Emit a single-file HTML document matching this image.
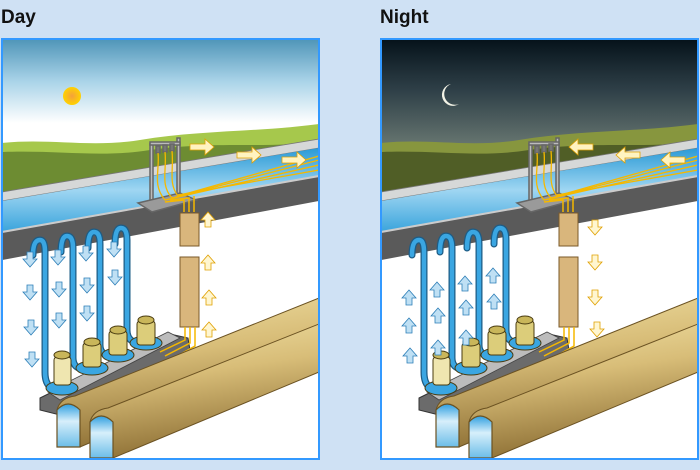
<!DOCTYPE html>
<html><head><meta charset="utf-8"><style>
html,body{margin:0;padding:0;background:#cfe1f4;}
svg{display:block}
text{font-family:"Liberation Sans",sans-serif;font-weight:bold;}
</style></head><body>
<svg width="700" height="470" viewBox="0 0 700 470" xmlns="http://www.w3.org/2000/svg">
<defs>
<linearGradient id="skyD" x1="0" y1="0" x2="0" y2="1"><stop offset="0" stop-color="#4f95b8"/><stop offset="0.1" stop-color="#a9d3e8"/><stop offset="0.2" stop-color="#ffffff"/></linearGradient>
<linearGradient id="skyN" x1="0" y1="0" x2="0" y2="1"><stop offset="0" stop-color="#05121a"/><stop offset="0.12" stop-color="#2e3f47"/><stop offset="0.25" stop-color="#65746f"/></linearGradient>
<linearGradient id="wat" x1="0" y1="0" x2="0" y2="1"><stop offset="0" stop-color="#2b9ad6"/><stop offset="0.5" stop-color="#9fd6f2"/><stop offset="1" stop-color="#3aa4dc"/></linearGradient>
<linearGradient id="tun" x1="0" y1="0" x2="0.25" y2="1"><stop offset="0" stop-color="#f1e2a6"/><stop offset="0.45" stop-color="#d8bd78"/><stop offset="1" stop-color="#8e7035"/></linearGradient>
<linearGradient id="face" x1="0" y1="0" x2="0" y2="1"><stop offset="0" stop-color="#2f9fe0"/><stop offset="0.4" stop-color="#d7effb"/><stop offset="1" stop-color="#6cbde8"/></linearGradient>
<radialGradient id="sun"><stop offset="0" stop-color="#f4a13c"/><stop offset="1" stop-color="#ffd200"/></radialGradient>
<clipPath id="cp"><rect x="3" y="40" width="315" height="418"/></clipPath>
<g id="under">
  <rect x="3" y="200" width="316" height="260" fill="#fff"/>
  <polygon points="2,192 319,139 319,148 2,201" fill="#d6d8d8" stroke="#777" stroke-width="0.8"/>
  <polygon points="2,201 319,148 319,176 2,232" fill="url(#wat)"/>
  <polygon points="2,232 319,176 319,201 2,260" fill="#5a5a5a"/>
  <line x1="2" y1="232" x2="319" y2="176" stroke="#ccc" stroke-width="2"/>
  <g stroke="#666" stroke-width="1.5" fill="#bbb">
    <rect x="150" y="144" width="3" height="58"/><rect x="177" y="138" width="3" height="58"/>
    <rect x="150" y="142" width="30" height="3"/>
    <rect x="156" y="146" width="4" height="7" fill="#777"/><rect x="163" y="145" width="4" height="7" fill="#777"/><rect x="170" y="144" width="4" height="7" fill="#777"/>
    <polygon points="138,203 180,193 196,200 152,212" fill="#9a9a9a"/>
  </g>
  <g stroke="#f5b800" stroke-width="1.3" fill="none">
    <path d="M158,153 C160,170 152,185 165,200 L319,165"/>
    <path d="M165,152 C167,170 160,185 172,198 L319,160"/>
    <path d="M172,151 C174,170 168,183 178,196 L319,156"/>
    <path d="M178,195 L319,170"/>
  </g>
  <polygon points="40,398 170,334 188,338 190,350 60,415 40,410" fill="#6b6b6b" stroke="#333" stroke-width="1"/>
  <polygon points="48,392 168,332 180,338 60,400" fill="#bcbcbc" stroke="#444" stroke-width="0.8"/>
  <g fill="none" stroke="#1d5c85" stroke-width="7" stroke-linecap="round">
    <path d="M33,255 Q33,240 40,240 Q45,240 45,252 L45,372 Q45,392 62,388"/>
    <path d="M61,252 Q61,236 67,236 Q73,236 73,248 L73,358 Q73,372 92,368"/>
    <path d="M88,248 Q88,232 94,232 Q100,232 100,244 L100,345 Q100,358 118,355"/>
    <path d="M115,244 Q115,228 121,228 Q127,228 127,240 L127,330 Q127,345 146,343"/>
  </g>
  <g fill="none" stroke="#3aa6e2" stroke-width="4.5" stroke-linecap="round">
    <path d="M33,255 Q33,240 40,240 Q45,240 45,252 L45,372 Q45,392 62,388"/>
    <path d="M61,252 Q61,236 67,236 Q73,236 73,248 L73,358 Q73,372 92,368"/>
    <path d="M88,248 Q88,232 94,232 Q100,232 100,244 L100,345 Q100,358 118,355"/>
    <path d="M115,244 Q115,228 121,228 Q127,228 127,240 L127,330 Q127,345 146,343"/>
  </g>
  <g stroke="#4a3c10" stroke-width="1">
    <ellipse cx="62" cy="388" rx="16" ry="7" fill="#3aa6e2"/><rect x="54" y="357" width="17" height="28" rx="3" fill="#efe6b0"/><ellipse cx="62" cy="355" rx="8" ry="4" fill="#c9b65a"/>
    <ellipse cx="92" cy="368" rx="16" ry="7" fill="#3aa6e2"/><rect x="83" y="343" width="18" height="24" rx="3" fill="#dccd7a"/><ellipse cx="92" cy="342" rx="8" ry="4" fill="#c9b65a"/>
    <ellipse cx="118" cy="355" rx="16" ry="7" fill="#3aa6e2"/><rect x="109" y="331" width="18" height="24" rx="3" fill="#dccd7a"/><ellipse cx="118" cy="330" rx="8" ry="4" fill="#c9b65a"/>
    <ellipse cx="146" cy="343" rx="16" ry="7" fill="#3aa6e2"/><rect x="137" y="321" width="18" height="24" rx="3" fill="#dccd7a"/><ellipse cx="146" cy="320" rx="8" ry="4" fill="#c9b65a"/>
  </g>
  <g fill="#d9b67c" stroke="#7a5a2a" stroke-width="1">
    <rect x="180" y="213" width="19" height="33"/><rect x="180" y="257" width="19" height="70"/>
  </g>
  <g stroke="#f5b800" stroke-width="1.5" fill="none">
    <path d="M184,212 L184,200 L165,202"/><path d="M189,212 L189,198 L170,200"/><path d="M194,212 L194,196"/>
    <path d="M185,327 L185,340 L160,352"/><path d="M190,327 L190,343 L165,356"/><path d="M195,327 L195,346 L170,360"/>
  </g>
  <path d="M57,447 L57,410 Q60,398 75,396 L319,298 L319,345 L80,447 Z" fill="url(#tun)" stroke="#6b5222" stroke-width="1"/>
  <path d="M57,447 L57,410 Q68,398 80,410 L80,447 Z" fill="url(#face)" stroke="#6b5222" stroke-width="1.2"/>
  <path d="M90,458 L90,422 Q93,410 108,408 L319,324 L319,372 L113,458 Z" fill="url(#tun)" stroke="#6b5222" stroke-width="1"/>
  <path d="M90,458 L90,422 Q101,410 113,422 L113,458 Z" fill="url(#face)" stroke="#6b5222" stroke-width="1.2"/>
</g>
<g id="dn"><path d="M-3,0 h6 v7 h4 l-7,8 l-7,-8 h4 z" fill="#bfe0f4" stroke="#2d7fb8" stroke-width="0.8"/></g>
<g id="up"><path d="M-3,15 h6 v-7 h4 l-7,-8 l-7,8 h4 z" fill="#fff6d0" stroke="#e0a000" stroke-width="0.8"/></g>
<g id="ydn"><path d="M-3,0 h6 v7 h4 l-7,8 l-7,-8 h4 z" fill="#fff6d0" stroke="#e0a000" stroke-width="0.8"/></g>
<g id="bup"><path d="M-3,15 h6 v-7 h4 l-7,-8 l-7,8 h4 z" fill="#bfe0f4" stroke="#2d7fb8" stroke-width="0.8"/></g>
</defs>

<text x="1" y="23" font-size="19" fill="#111">Day</text>
<text x="380" y="23" font-size="19" fill="#111">Night</text>

<g clip-path="url(#cp)">
  <rect x="2" y="39" width="318" height="420" fill="url(#skyD)"/>
  <circle cx="72" cy="96" r="9" fill="url(#sun)"/>
  <path d="M2,143 C50,138 90,148 140,140 C200,130 260,132 319,124 L319,200 L2,200 Z" fill="#a6c84c"/>
  <path d="M2,152 C60,150 100,158 150,150 C220,140 280,150 319,140 L319,200 L2,200 Z" fill="#6d8c32"/>
  <use href="#under"/>
  <use href="#dn" x="30" y="252"/><use href="#dn" x="58" y="250"/><use href="#dn" x="86" y="246"/><use href="#dn" x="114" y="242"/>
  <use href="#dn" x="30" y="285"/><use href="#dn" x="59" y="282"/><use href="#dn" x="87" y="278"/><use href="#dn" x="115" y="270"/>
  <use href="#dn" x="31" y="320"/><use href="#dn" x="59" y="313"/><use href="#dn" x="87" y="306"/>
  <use href="#dn" x="32" y="352"/>
  <use href="#up" x="208" y="255"/><use href="#up" x="209" y="290"/><use href="#up" x="209" y="322"/><use href="#up" x="208" y="212"/>
  <g fill="#fff3c0" stroke="#e0a000" stroke-width="0.8">
    <path d="M190,144 L205,144 L205,139 L214,147 L205,155 L205,150 L190,150 Z"/>
    <path d="M237,152 L252,152 L252,147 L261,155 L252,163 L252,158 L237,158 Z"/>
    <path d="M282,157 L297,157 L297,152 L306,160 L297,168 L297,163 L282,163 Z"/>
  </g>
</g>
<rect x="2" y="39" width="317" height="420" fill="none" stroke="#3399ff" stroke-width="2"/>

<g transform="translate(379,0)">
<g clip-path="url(#cp)">
  <rect x="2" y="39" width="318" height="420" fill="url(#skyN)"/>
  <path d="M72,84 a11,11 0 1,0 8,20 a9,9 0 1,1 -8,-20z" fill="#f3f3e6"/>
  <path d="M2,143 C50,138 90,148 140,140 C200,130 260,132 319,124 L319,200 L2,200 Z" fill="#87963e"/>
  <path d="M2,152 C60,150 100,158 150,150 C220,140 280,150 319,140 L319,200 L2,200 Z" fill="#505e26"/>
  <use href="#under"/>
  <use href="#bup" x="30" y="290"/><use href="#bup" x="58" y="282"/><use href="#bup" x="86" y="276"/><use href="#bup" x="114" y="268"/>
  <use href="#bup" x="30" y="318"/><use href="#bup" x="59" y="308"/><use href="#bup" x="87" y="300"/><use href="#bup" x="115" y="294"/>
  <use href="#bup" x="31" y="348"/><use href="#bup" x="59" y="340"/><use href="#bup" x="87" y="330"/>
  <use href="#ydn" x="216" y="220"/><use href="#ydn" x="216" y="255"/><use href="#ydn" x="216" y="290"/><use href="#ydn" x="218" y="322"/>
  <g fill="#fff3c0" stroke="#e0a000" stroke-width="0.8">
    <path d="M214,144 L199,144 L199,139 L190,147 L199,155 L199,150 L214,150 Z"/>
    <path d="M261,152 L246,152 L246,147 L237,155 L246,163 L246,158 L261,158 Z"/>
    <path d="M306,157 L291,157 L291,152 L282,160 L291,168 L291,163 L306,163 Z"/>
  </g>
</g>
<rect x="2" y="39" width="317" height="420" fill="none" stroke="#3399ff" stroke-width="2"/>
</g>
</svg>
</body></html>
